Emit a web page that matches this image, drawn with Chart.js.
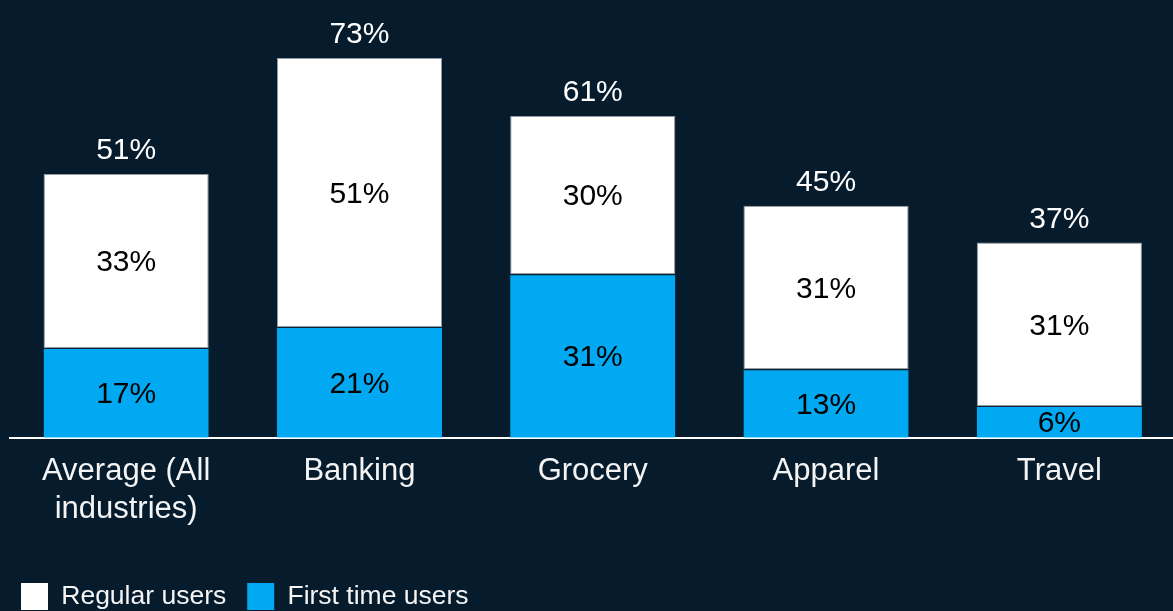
<!DOCTYPE html>
<html>
<head>
<meta charset="utf-8">
<script src="https://cdn.jsdelivr.net/npm/chart.js@4/dist/chart.umd.min.js"></script>
<style>
  html, body { margin: 0; padding: 0; background: #061b2c; overflow: hidden; }
  #wrap { position: absolute; left: 0; top: 0; width: 1176px; height: 620px; }
</style>
</head>
<body>
<div id="wrap"><canvas id="c" width="1176" height="620"></canvas></div>
<script>
// Industries shown along the x axis
const categories = [["Average (All", "industries)"], "Banking", "Grocery", "Apparel", "Travel"];
// Share of first time users (bottom segment), %
const firstTimeUsers = [17, 21, 31, 13, 6];
// Share of regular users (top segment), %
const regularUsers = [33, 51, 30, 31, 31];
// Combined share printed above each stack, %
const totals = [51, 73, 61, 45, 37];

const BG = '#061b2c';
const BLUE = '#00a9f1';
const FONT = "'Liberation Sans', Arial, sans-serif";

// Writes the segment values inside the bars and the totals above the stacks
const valueLabels = {
  id: 'valueLabels',
  afterDatasetsDraw(chart) {
    const ctx = chart.ctx;
    ctx.save();
    ctx.textAlign = 'center';
    ctx.textBaseline = 'middle';
    ctx.font = '30px ' + FONT;
    chart.data.datasets.forEach((ds, di) => {
      const meta = chart.getDatasetMeta(di);
      meta.data.forEach((bar, i) => {
        const p = bar.getProps(['x', 'y', 'base'], true);
        ctx.fillStyle = '#000000';
        ctx.fillText(ds.data[i] + '%', p.x, (p.y + p.base) / 2 + 2);
      });
    });
    const top = chart.getDatasetMeta(chart.data.datasets.length - 1);
    top.data.forEach((bar, i) => {
      const p = bar.getProps(['x', 'y'], true);
      ctx.fillStyle = '#ffffff';
      ctx.fillText(totals[i] + '%', p.x, p.y - 23);
    });
    ctx.restore();
  }
};

new Chart(document.getElementById('c'), {
  type: 'bar',
  data: {
    labels: categories,
    datasets: [
      {
        label: 'First time users',
        data: firstTimeUsers,
        backgroundColor: BLUE,
        borderColor: '#0e2233',
        borderWidth: { top: 1, left: 0, right: 0, bottom: 0 },
        borderSkipped: false
      },
      {
        label: 'Regular users',
        data: regularUsers,
        backgroundColor: '#ffffff',
        borderColor: '#8f9ba6',
        borderWidth: 1,
        borderSkipped: false
      }
    ]
  },
  options: {
    responsive: false,
    animation: false,
    devicePixelRatio: 1,
    layout: { padding: { left: 0, right: 0, top: 0, bottom: 0 } },
    datasets: { bar: { categoryPercentage: 1, barPercentage: 0.708 } },
    scales: {
      x: {
        stacked: true,
        grid: { display: false },
        border: { display: true, color: '#ffffff', width: 2 },
        ticks: {
          color: '#f4f4f4',
          font: { family: FONT, size: 31, lineHeight: 1.23 },
          padding: 7,
          maxRotation: 0,
          autoSkip: false
        },
        afterFit(scale) { scale.height += 26; }
      },
      y: {
        stacked: true,
        display: true,
        min: 0,
        max: 83,
        grid: { display: false },
        border: { display: false },
        ticks: { display: false },
        afterFit(scale) { scale.width = 9.5; }
      }
    },
    plugins: {
      tooltip: { enabled: false },
      legend: {
        position: 'bottom',
        align: 'start',
        reverse: true,
        labels: {
          color: '#f4f4f4',
          font: { family: FONT, size: 26.5 },
          boxWidth: 27,
          boxHeight: 27,
          padding: 21,
          generateLabels(chart) {
            const items = Chart.defaults.plugins.legend.labels.generateLabels(chart);
            items.forEach(it => { it.lineWidth = 0; it.strokeStyle = 'rgba(0,0,0,0)'; });
            return items;
          }
        }
      }
    }
  },
  plugins: [valueLabels]
});
</script>
</body>
</html>
